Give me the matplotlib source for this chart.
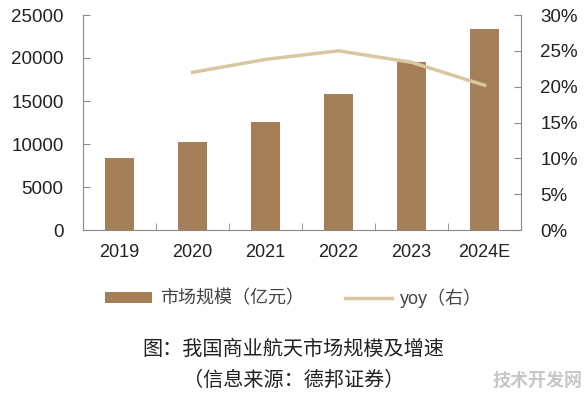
import matplotlib
matplotlib.use("Agg")
import matplotlib.pyplot as plt
from matplotlib.ticker import FuncFormatter
from matplotlib.patches import Patch
from matplotlib.lines import Line2D

plt.rcParams['font.family'] = ['Liberation Sans', 'Noto Sans CJK SC', 'DejaVu Sans']

years = ["2019", "2020", "2021", "2022", "2023", "2024E"]
market = [8400, 10200, 12600, 15800, 19500, 23400]
yoy_years = ["2020", "2021", "2022", "2023", "2024E"]
yoy = [22.0, 23.8, 25.0, 23.4, 20.2]

bar_color = "#A57F57"
line_color = "#D9C79F"
spine_color = "#8A8A8A"
text_color = "#222222"

fig = plt.figure(figsize=(5.87, 3.97), dpi=100)
ax = fig.add_axes([83/587, 1 - 230/397, (521-83)/587, (230-15)/397])
x = list(range(len(years)))
ax.bar(x, market, width=0.4, color=bar_color, zorder=2)
ax.set_xlim(-0.5, len(years) - 0.5)
ax.set_ylim(0, 25000)
ax.set_yticks(range(0, 25001, 5000))
ax.set_xticks(x)
ax.set_xticklabels(years)
ax.set_xticks([i + 0.5 for i in range(len(years) - 1)], minor=True)
ax.tick_params(axis='x', which='major', length=0, pad=10, labelsize=13, labelcolor=text_color)
ax.tick_params(axis='x', which='minor', direction='in', length=5, color=spine_color)
ax.tick_params(axis='y', direction='in', length=5, color=spine_color, labelsize=13.5, labelcolor=text_color, pad=14)
for s in ['top', 'right']:
    ax.spines[s].set_visible(False)
for s in ['left', 'bottom']:
    ax.spines[s].set_color(spine_color)

ax2 = ax.twinx()
xi = [years.index(y) for y in yoy_years]
ax2.plot(xi, yoy, color=line_color, lw=2.5, zorder=3)
ax2.set_ylim(0, 30)
ax2.set_yticks(range(0, 31, 5))
ax2.yaxis.set_major_formatter(FuncFormatter(lambda v, p: f"{int(v)}%"))
ax2.tick_params(axis='y', direction='in', length=5, color=spine_color, labelsize=13.5, labelcolor=text_color, pad=14)
for s in ['top', 'left', 'bottom']:
    ax2.spines[s].set_visible(False)
ax2.spines['right'].set_color(spine_color)

handles = [Patch(facecolor=bar_color, edgecolor='none'), Line2D([0], [0], color=line_color, lw=2.5)]
labels = ["市场规模（亿元）", "yoy（右）"]
fig.legend(handles, labels, loc='center', bbox_to_anchor=(0.5, 1 - 298/397), ncol=2,
           frameon=False, fontsize=13, handlelength=2.6, handleheight=0.55,
           handletextpad=0.45, columnspacing=2.3, labelcolor="#444444")

fig.text(0.5, 1 - 349/397, "图：我国商业航天市场规模及增速", ha='center', va='center',
         fontsize=14.5, color="#222222", family=['Noto Sans CJK SC', 'DejaVu Sans'])
fig.text(0.5, 1 - 380/397, "（信息来源：德邦证券）", ha='center', va='center',
         fontsize=14.5, color="#222222", family=['Noto Sans CJK SC', 'DejaVu Sans'])
fig.text(0.992, 1 - 380/397, "技术开发网", ha='right', va='center', fontsize=13,
         color="#C8C8C8", weight='bold', family=['Noto Sans CJK SC', 'DejaVu Sans'])

fig.savefig("out.png", dpi=100)
